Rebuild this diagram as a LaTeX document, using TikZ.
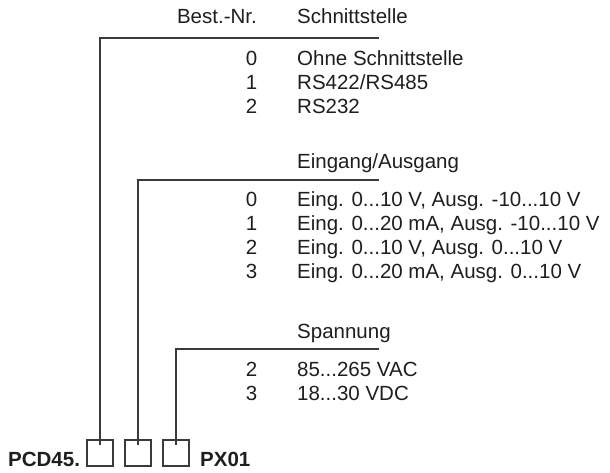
\documentclass[tikz,border=0pt]{standalone}
\usepackage{fontspec}
\setmainfont{Liberation Sans}
\definecolor{ink}{HTML}{1E1E1E}
\definecolor{rule}{HTML}{3A3A3A}
\begin{document}
\begin{tikzpicture}[x=1pt,y=-1pt,
  txt/.style={inner sep=0pt,anchor=base west,font=\fontsize{20.5}{24}\selectfont,text=ink},
  num/.style={inner sep=0pt,anchor=base,font=\fontsize{20.5}{24}\selectfont,text=ink},
  bold/.style={inner sep=0pt,anchor=base west,font=\fontsize{20.5}{24}\selectfont\bfseries,text=ink},
  ln/.style={line width=1.1pt,draw=rule},
  sq/.style={draw=rule,line width=1.1pt,minimum width=26pt,minimum height=26pt,inner sep=0pt}]
\useasboundingbox (0,0) rectangle (610,472);
% section 1
\node[txt,anchor=base east] (bn) at (257,23) {Best.-Nr.};
\node[txt] (h1) at (297,23) {Schnittstelle};
\node[num] (a0) at (251.5,65) {0}; \node[txt] (t0) at (297,65) {Ohne Schnittstelle};
\node[num] (a1) at (251.5,89) {1}; \node[txt] (t1) at (297,89) {RS422/RS485};
\node[num] (a2) at (251.5,113) {2}; \node[txt] (t2) at (297,113) {RS232};
% section 2
\node[txt] (h2) at (297,168) {Eingang/Ausgang};
\node[num] (b0) at (251.5,206) {0}; \node[txt] (u0) at (297,206) {Eing. 0...10 V, Ausg. -10...10 V};
\node[num] (b1) at (251.5,230) {1}; \node[txt] (u1) at (297,230) {Eing. 0...20 mA, Ausg. -10...10 V};
\node[num] (b2) at (251.5,254) {2}; \node[txt] (u2) at (297,254) {Eing. 0...10 V, Ausg. 0...10 V};
\node[num] (b3) at (251.5,278) {3}; \node[txt] (u3) at (297,278) {Eing. 0...20 mA, Ausg. 0...10 V};
% section 3
\node[txt] (h3) at (297,338) {Spannung};
\node[num] (c2) at (251.5,376) {2}; \node[txt] (v2) at (297,376) {85...265 VAC};
\node[num] (c3) at (251.5,400) {3}; \node[txt] (v3) at (297,400) {18...30 VDC};
% bottom
\node[bold] (pcd) at (8,466) {PCD45.};
\node[sq] (s1) at (100,453) {};
\node[sq] (s2) at (138,453) {};
\node[sq] (s3) at (176,453) {};
\node[bold] (px) at (200,466) {PX01};
% connectors
\coordinate (e1) at (379,38);
\coordinate (e2) at (379,180);
\coordinate (e3) at (379,349);
\draw[ln] (e1) -- (s1.north |- e1) -- ([yshift=-6pt]s1.north);
\draw[ln] (e2) -- (s2.north |- e2) -- ([yshift=-6pt]s2.north);
\draw[ln] (e3) -- (s3.north |- e3) -- ([yshift=-6pt]s3.north);
\end{tikzpicture}
\end{document}
